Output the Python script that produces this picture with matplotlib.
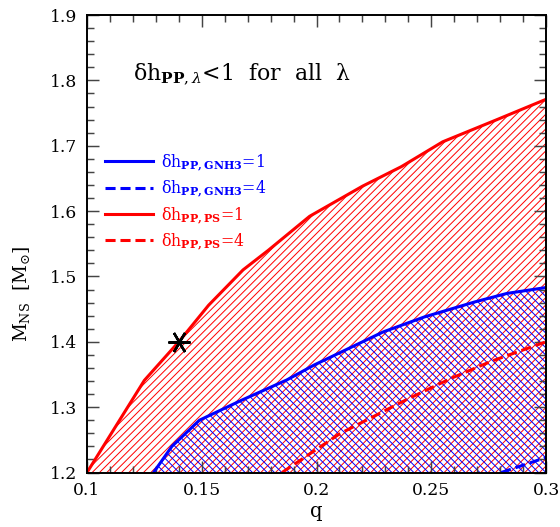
import matplotlib
matplotlib.use('Agg')
import matplotlib.pyplot as plt
from matplotlib.ticker import MultipleLocator

# ---- data ----
q_ps1 = [0.1, 0.125, 0.14, 0.153, 0.168, 0.179, 0.197, 0.22, 0.237, 0.255, 0.278, 0.3]
m_ps1 = [1.2, 1.341, 1.40, 1.456, 1.51, 1.540, 1.592, 1.638, 1.668, 1.706, 1.739, 1.771]

q_gnh1 = [0.129, 0.137, 0.149, 0.167, 0.187, 0.199, 0.21, 0.229, 0.247, 0.269, 0.283, 0.3]
m_gnh1 = [1.2, 1.24, 1.28, 1.31, 1.3415, 1.3645, 1.383, 1.415, 1.438, 1.461, 1.474, 1.483]

q_ps4 = [0.185, 0.21, 0.2395, 0.2586, 0.276, 0.3]
m_ps4 = [1.2, 1.259, 1.312, 1.344, 1.37, 1.40]

q_gnh4 = [0.2805, 0.289, 0.3]
m_gnh4 = [1.2, 1.21, 1.223]

star_q = [0.14]
star_m = [1.40]

x_ticks = [0.1, 0.15, 0.2, 0.25, 0.3]
x_ticklabels = ['0.1', '0.15', '0.2', '0.25', '0.3']
y_ticks = [1.2, 1.3, 1.4, 1.5, 1.6, 1.7, 1.8, 1.9]
y_ticklabels = ['1.2', '1.3', '1.4', '1.5', '1.6', '1.7', '1.8', '1.9']

labels = [r'δh$_{\mathbf{PP,GNH3}}$=1', r'δh$_{\mathbf{PP,GNH3}}$=4',
          r'δh$_{\mathbf{PP,PS}}$=1', r'δh$_{\mathbf{PP,PS}}$=4']
title_text = r'δh$_{\mathbf{PP},\lambda}$<1  for  all  λ'

# ---- style ----
plt.rcParams['font.family'] = ['DejaVu Serif']
plt.rcParams['mathtext.fontset'] = 'dejavuserif'
plt.rcParams['hatch.linewidth'] = 0.8

DPI = 88
fig = plt.figure(figsize=(560 / DPI, 527 / DPI), dpi=DPI)
ax = fig.add_axes([87 / 560, 1 - 472.5 / 527, 459 / 560, 457.5 / 527])

ax.fill_between(q_ps1, 1.2, m_ps1, facecolor='none', edgecolor='red', hatch='////', linewidth=0)
ax.fill_between(q_gnh1, 1.2, m_gnh1, facecolor='none', edgecolor='blue', hatch='\\\\\\\\', linewidth=0)

lw = 2.5
ax.plot(q_gnh1, m_gnh1, color='blue', lw=lw, label=labels[0])
ax.plot(q_gnh4, m_gnh4, color='blue', lw=lw, dashes=(3.3, 1.6), label=labels[1])
ax.plot(q_ps1, m_ps1, color='red', lw=lw, label=labels[2])
ax.plot(q_ps4, m_ps4, color='red', lw=lw, dashes=(3.3, 1.6), label=labels[3])

ax.plot(star_q, star_m, linestyle='none', marker=(6, 2, 90), ms=18, mew=2, color='black')

ax.set_xlim(0.1, 0.3)
ax.set_ylim(1.2, 1.9)
ax.set_xticks(x_ticks)
ax.set_xticklabels(x_ticklabels)
ax.set_yticks(y_ticks)
ax.set_yticklabels(y_ticklabels)
ax.xaxis.set_minor_locator(MultipleLocator(0.01))
ax.yaxis.set_minor_locator(MultipleLocator(0.02))
ax.tick_params(which='both', direction='in', top=True, right=True, color='#444444', width=1.2,
               labelsize=14)
ax.tick_params(which='major', length=10, pad=8)
ax.tick_params(which='minor', length=5.5)
for s in ax.spines.values():
    s.set_linewidth(1.6)

ax.set_xlabel('q', fontsize=16, labelpad=2)
ax.set_ylabel(r'M$_{\mathrm{NS}}$  [M$_{\odot}$]', fontsize=15)
ax.yaxis.set_label_coords(-0.12, 0.39)

ax.text(0.1, 0.87, title_text, transform=ax.transAxes, fontsize=18, ha='left', va='center')

leg = ax.legend(loc='upper left', bbox_to_anchor=(0.04, 0.70), frameon=False, fontsize=13,
                handlelength=3.0, handletextpad=0.5, labelspacing=0.35, borderaxespad=0,
                borderpad=0, labelcolor='linecolor')

fig.savefig('out.png', dpi=DPI)
